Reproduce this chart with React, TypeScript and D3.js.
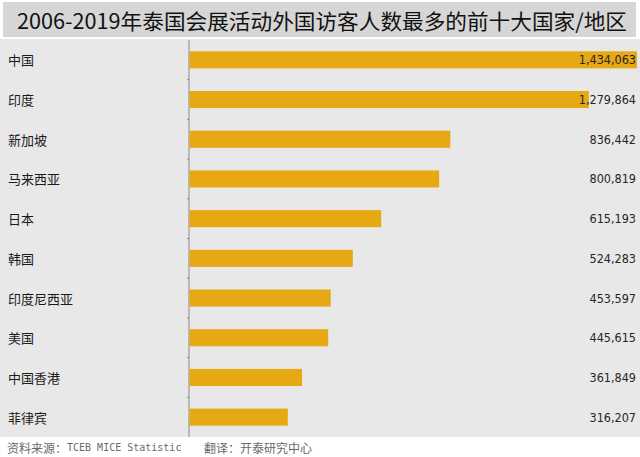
import React from "react";
import * as d3 from "d3";

const categories = ["中国", "印度", "新加坡", "马来西亚", "日本", "韩国", "印度尼西亚", "美国", "中国香港", "菲律宾"];
const visitors = [1434063, 1279864, 836442, 800819, 615193, 524283, 453597, 445615, 361849, 316207];
const titleText = "2006-2019年泰国会展活动外国访客人数最多的前十大国家/地区";
const sourceLabel = "资料来源：";
const sourceName = "TCEB MICE Statistic";
const translationText = "翻译：开泰研究中心";

const W = 640;
const H = 457;

export default function App() {
  const x = d3.scaleLinear().domain([0, d3.max(visitors) as number]).range([189, 637]);
  const y = d3.scaleBand<string>().domain(categories).range([40, 437]).paddingInner(0.57).paddingOuter(0.285);
  const fmt = d3.format(",");
  const step = y.step();
  const cjk = "'Noto Sans CJK SC', 'Noto Sans', sans-serif";
  return (
    <svg width={W} height={H} style={{ position: "absolute", left: 0, top: 0, background: "#ffffff" }}>
      <rect x={3} y={2} width={633} height={35} fill="#d6d6d6" />
      <text x={322} y={20} textAnchor="middle" dominantBaseline="central" fontFamily={cjk} fontSize={21} fill="#111" textLength={610} lengthAdjust="spacingAndGlyphs">{titleText}</text>
      <rect x={0} y={39} width={W} height={398} fill="#e8e8e8" />
      <line x1={189} x2={189} y1={40} y2={437} stroke="#8a8a8a" strokeWidth={1} />
      {categories.map((c, i) => {
        const by = y(c) as number;
        const cy = by + y.bandwidth() / 2;
        const bound = by - (step - y.bandwidth()) / 2;
        return (
          <g key={c}>
            {i > 0 && <line x1={187} x2={189} y1={bound} y2={bound} stroke="#8a8a8a" strokeWidth={1} />}
            <rect x={x(0) + 0.5} y={by} width={x(visitors[i]) - x(0) - 0.5} height={y.bandwidth()} fill="#e6a813" />
            <text x={8} y={cy} dominantBaseline="central" fontFamily={cjk} fontSize={13} fill="#1a1a1a">{c}</text>
            <text x={636} y={cy} textAnchor="end" dominantBaseline="central" fontFamily="'Liberation Sans Narrow', 'DejaVu Sans Condensed', sans-serif" fontSize={12.5} fontWeight={500} fill="#262626">{fmt(visitors[i])}</text>
          </g>
        );
      })}
      <text x={7} y={447} dominantBaseline="central" fontSize={12} fill="#6a6a6a">
        <tspan fontFamily={cjk}>{sourceLabel}</tspan>
        <tspan fontFamily="'DejaVu Sans Mono', monospace" fontSize={10}>{sourceName}</tspan>
      </text>
      <text x={204} y={447} dominantBaseline="central" fontFamily={cjk} fontSize={12} fill="#6a6a6a">{translationText}</text>
    </svg>
  );
}
